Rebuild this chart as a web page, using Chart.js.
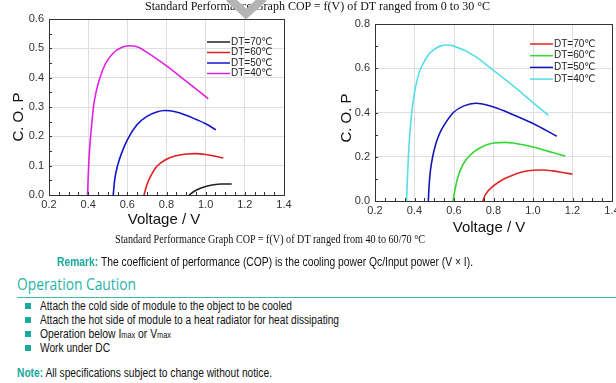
<!DOCTYPE html>
<html lang="en">
<head>
<meta charset="UTF-8" />
<title>COP = f(V)</title>
<script src="https://cdn.jsdelivr.net/npm/chart.js"></script>
<style>
  html, body { margin: 0; padding: 0; background: #fff; }
  body { width: 616px; height: 383px; position: relative; overflow: hidden; font-family: "Liberation Sans", Arial, sans-serif; color: #111; }
  .box { position: absolute; top: 0; }
  .t { position: absolute; white-space: nowrap; transform-origin: left center; line-height: 1; }
  .serif { font-family: "Liberation Serif", "Times New Roman", serif; }
  .teal { color: #17a99c; font-weight: bold; }
  .sq { position: absolute; left: 25px; width: 6px; height: 6px; background: #1aa99b; }
  sub { font-size: 8.5px; vertical-align: baseline; }
</style>
</head>
<body>

<div class="box" style="left:0;width:300px;height:235px"><canvas id="chartLeft"></canvas></div>
<div class="box" style="left:326px;width:320px;height:245px"><canvas id="chartRight"></canvas></div>

<div class="t serif" id="capTop" data-w="345" style="left:145px;top:0px;font-size:12.5px">Standard Performance Graph COP = f(V) of DT ranged from 0 to 30 °C</div>
<svg style="position:absolute;left:0;top:0" width="616" height="20"><polyline points="229,-2 246,14 264,-2" fill="none" stroke="#b4b4b4" stroke-width="8"/></svg>
<div class="t serif" id="capBot" data-w="310" style="left:115px;top:233px;font-size:12.5px">Standard Performance Graph COP = f(V) of DT ranged from 40 to 60/70 °C</div>

<div class="t" data-w="416" style="left:57px;top:256px;font-size:12px"><span class="teal">Remark:</span> The coefficient of performance (COP) is the cooling power Qc/Input power (V × I).</div>
<div class="t" data-w="119" style="left:17px;top:275px;font-size:17px;color:#1fb3a6;font-family:'Open Sans','Noto Sans',sans-serif">Operation Caution</div>
<div style="position:absolute;left:17px;top:297px;width:600px;height:1px;background:#3bbab0"></div>

<div class="sq" style="top:303px"></div>
<div class="t" data-w="252" style="left:40px;top:300px;font-size:12px">Attach the cold side of module to the object to be cooled</div>
<div class="sq" style="top:317px"></div>
<div class="t" data-w="299" style="left:40px;top:314px;font-size:12px">Attach the hot side of module to a heat radiator for heat dissipating</div>
<div class="sq" style="top:331px"></div>
<div class="t" data-w="131" style="left:40px;top:328px;font-size:12px">Operation below I<sub>max</sub> or V<sub>max</sub></div>
<div class="sq" style="top:345px"></div>
<div class="t" data-w="70" style="left:40px;top:342px;font-size:12px">Work under DC</div>
<div class="t" data-w="255" style="left:17px;top:367px;font-size:12px"><span class="teal">Note:</span> All specifications subject to change without notice.</div>

<script>
  // left graph: DT ranged from 0 to 30 (legend as printed)
  const leftLabels = ["DT=70℃", "DT=60℃", "DT=50℃", "DT=40℃"];
  const leftColors = ["#222222", "#e02020", "#1414cc", "#e020e0"];
  const left70 = [[0.915,0],[0.94,0.012],[0.97,0.022],[1.0,0.029],[1.04,0.035],[1.08,0.0375],[1.133,0.0375]];
  const left60 = [[0.685,0],[0.7,0.035],[0.72,0.065],[0.75,0.097],[0.8,0.122],[0.85,0.134],[0.9,0.14],[0.95,0.141],[1.0,0.138],[1.05,0.132],[1.09,0.126]];
  const left50 = [[0.528,0],[0.535,0.05],[0.55,0.1],[0.575,0.15],[0.6,0.188],[0.65,0.24],[0.7,0.268],[0.75,0.283],[0.79,0.288],[0.85,0.283],[0.9,0.272],[0.95,0.258],[1.0,0.243],[1.052,0.222]];
  const left40 = [[0.397,0],[0.4,0.06],[0.404,0.12],[0.41,0.18],[0.418,0.24],[0.427,0.3],[0.44,0.35],[0.46,0.4],[0.49,0.45],[0.53,0.485],[0.57,0.503],[0.61,0.509],[0.65,0.505],[0.7,0.486],[0.8,0.44],[0.9,0.388],[1.0,0.335],[1.013,0.328]];

  // right graph: DT ranged from 40 to 60/70
  const rightLabels = ["DT=70℃", "DT=60℃", "DT=50℃", "DT=40℃"];
  const rightColors = ["#e02424", "#33d633", "#1414b8", "#55dde8"];
  const right70 = [[0.746,0],[0.76,0.03],[0.8,0.068],[0.85,0.098],[0.9,0.118],[0.95,0.132],[1.0,0.139],[1.05,0.14],[1.1,0.136],[1.15,0.129],[1.2,0.121]];
  const right60 = [[0.595,0],[0.605,0.05],[0.617,0.1],[0.635,0.145],[0.66,0.185],[0.7,0.222],[0.75,0.249],[0.8,0.262],[0.86,0.265],[0.9,0.262],[0.95,0.254],[1.0,0.244],[1.05,0.232],[1.1,0.219],[1.163,0.203]];
  const right50 = [[0.47,0],[0.474,0.07],[0.481,0.14],[0.492,0.2],[0.507,0.255],[0.527,0.305],[0.555,0.35],[0.597,0.4],[0.65,0.43],[0.71,0.442],[0.8,0.425],[0.9,0.39],[1.0,0.35],[1.12,0.293]];
  const right40 = [[0.36,0],[0.364,0.1],[0.369,0.2],[0.376,0.3],[0.386,0.4],[0.4,0.49],[0.42,0.57],[0.443,0.62],[0.47,0.66],[0.5,0.685],[0.53,0.7],[0.565,0.705],[0.6,0.7],[0.7,0.658],[0.8,0.59],[0.9,0.52],[1.0,0.445],[1.078,0.387]];

  const xTitle = "Voltage / V";
  const yTitle = "C. O. P";
  const font = "'Liberation Sans', Arial, sans-serif";

  // frame, minor ticks, legend and axis titles
  const decor = {
    id: "decor",
    afterDraw(chart, args, o) {
      const ctx = chart.ctx, a = chart.chartArea;
      const xs = chart.scales.x, ys = chart.scales.y;
      ctx.save();
      ctx.strokeStyle = "#333";
      ctx.lineWidth = 1;
      ctx.beginPath();
      for (let v = xs.min; v <= xs.max + 1e-9; v += 0.05) {
        const px = Math.round(xs.getPixelForValue(v)) + 0.5;
        ctx.moveTo(px, a.bottom); ctx.lineTo(px, a.bottom - 3);
      }
      for (let v = ys.min; v <= ys.max + 1e-9; v += o.yMinor) {
        const py = Math.round(ys.getPixelForValue(v)) + 0.5;
        ctx.moveTo(a.left, py); ctx.lineTo(a.left + 3, py);
      }
      ctx.stroke();
      ctx.strokeRect(Math.round(a.left) + 0.5, Math.round(a.top) + 0.5, Math.round(a.right - a.left), Math.round(a.bottom - a.top));

      ctx.font = "10px " + font + ", 'DejaVu Sans'";
      ctx.textBaseline = "middle";
      ctx.fillStyle = "#222";
      chart.data.datasets.forEach((ds, i) => {
        const y = o.legY + i * o.legDy;
        ctx.strokeStyle = ds.borderColor;
        ctx.lineWidth = 1.5;
        ctx.beginPath(); ctx.moveTo(o.legX, y); ctx.lineTo(o.legX + 23, y); ctx.stroke();
        ctx.fillText(ds.label, o.legX + 24, y);
      });

      ctx.fillStyle = "#111";
      ctx.font = "15px " + font;
      ctx.textAlign = "center";
      ctx.fillText(xTitle, o.xtX, o.xtY);
      ctx.translate(o.ytX, o.ytY);
      ctx.rotate(-Math.PI / 2);
      ctx.fillText(yTitle, 0, 0);
      ctx.restore();
    }
  };

  function makeChart(id, labels, colors, series, yMax, yStep, pad, xH, deco) {
    return new Chart(document.getElementById(id), {
      type: "line",
      data: {
        datasets: series.map((s, i) => ({
          label: labels[i],
          data: s.map(p => ({ x: p[0], y: p[1] })),
          borderColor: colors[i],
          borderWidth: 1.6,
          pointRadius: 0,
          cubicInterpolationMode: "monotone",
          fill: false
        }))
      },
      options: {
        animation: false,
        responsive: true,
        maintainAspectRatio: false,
        layout: { padding: { top: pad.top, right: pad.right, left: 0, bottom: 0 } },
        plugins: { legend: { display: false }, tooltip: { enabled: false }, decor: deco },
        scales: {
          x: {
            type: "linear", min: 0.2, max: 1.4,
            ticks: { stepSize: 0.2, padding: 3, color: "#333", font: { size: 11, family: font }, callback: v => v.toFixed(1) },
            grid: { color: "#dedede", drawTicks: false },
            border: { display: false },
            afterFit: s => { s.height = xH; }
          },
          y: {
            type: "linear", min: 0, max: yMax,
            ticks: { stepSize: yStep, padding: 5, color: "#333", font: { size: 11, family: font }, callback: v => v.toFixed(1) },
            grid: { color: "#dedede", drawTicks: false },
            border: { display: false },
            afterFit: s => { s.width = 49; }
          }
        }
      },
      plugins: [decor]
    });
  }

  makeChart("chartLeft", leftLabels, leftColors, [left70, left60, left50, left40], 0.6, 0.1,
    { top: 19, right: 16 }, 40,
    { yMinor: 0.05, legX: 207, legY: 42, legDy: 10.5, xtX: 164, xtY: 220, ytX: 19, ytY: 117 });

  makeChart("chartRight", rightLabels, rightColors, [right70, right60, right50, right40], 0.8, 0.2,
    { top: 24, right: 34 }, 44,
    { yMinor: 0.1, legX: 204, legY: 44, legDy: 11.7, xtX: 163, xtY: 228, ytX: 21, ytY: 118 });

  // squeeze text blocks to the widths they have in the printed sheet
  document.querySelectorAll(".t[data-w]").forEach(el => {
    const w = el.getBoundingClientRect().width;
    el.style.transform = "scaleX(" + (parseFloat(el.dataset.w) / w) + ")";
  });
</script>
</body>
</html>
